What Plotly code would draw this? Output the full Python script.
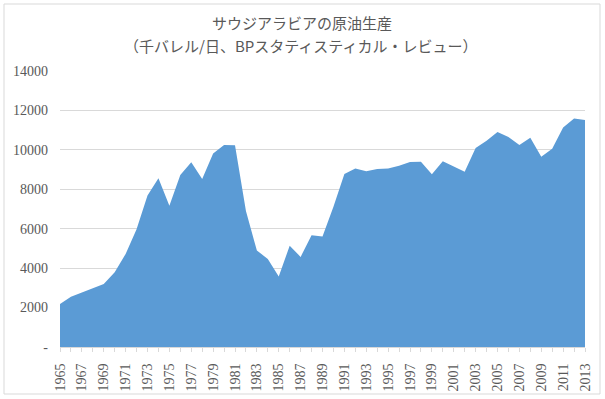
import plotly.graph_objects as go

years = list(range(1965, 2014))
production = [2180, 2550, 2760, 2990, 3200, 3790, 4720, 5970, 7680, 8560,
              7170, 8730, 9370, 8520, 9810, 10250, 10230, 6900, 4890, 4470,
              3570, 5140, 4570, 5670, 5600, 7120, 8780, 9050, 8910, 9030,
              9050, 9200, 9390, 9400, 8760, 9420, 9170, 8890, 10100, 10460,
              10900, 10650, 10250, 10610, 9645, 10050, 11130, 11590, 11510]
y_ticks = [0, 2000, 4000, 6000, 8000, 10000, 12000, 14000]
y_tick_labels = ["-", "2000", "4000", "6000", "8000", "10000", "12000", "14000"]
title_line1 = "サウジアラビアの原油生産"
title_line2 = "（千バレル/日、BPスタティスティカル・レビュー）"

x_text = [str(y) if (y - 1965) % 2 == 0 else "" for y in years]

fig = go.Figure()
fig.add_trace(go.Scatter(
    x=years, y=production, mode="lines", fill="tozeroy",
    line=dict(width=0, color="#5B9BD5"), fillcolor="#5B9BD5",
    hoverinfo="x+y", showlegend=False,
))

W, H = 605, 399
L, R, T, B = 60, 20, 71, 52
pw, ph = W - L - R, H - T - B

def px(x):
    return (x - L) / pw

def py(y):
    return (H - B - y) / ph

fig.update_layout(
    width=W, height=H,
    margin=dict(l=L, r=R, t=T, b=B),
    paper_bgcolor="white", plot_bgcolor="white",
    xaxis=dict(
        range=[1965, 2013], tickmode="array", tickvals=years, ticktext=x_text,
        tickangle=-90, ticks="outside", ticklen=4, tickcolor="#d9d9d9",
        showgrid=False, showline=True, linecolor="#d9d9d9", zeroline=False,
        ticklabelstandoff=6, automargin=False,
        tickfont=dict(family="Liberation Serif", size=14, color="#595959"),
    ),
    yaxis=dict(
        range=[0, 14000], tickmode="array", tickvals=y_ticks, ticktext=y_tick_labels,
        showgrid=True, gridcolor="#d9d9d9", gridwidth=1, zeroline=False,
        showline=False, ticks="", ticklabelstandoff=11, automargin=False,
        tickfont=dict(family="Liberation Serif", size=14, color="#595959"),
    ),
    annotations=[
        dict(text=title_line1, x=px(302), y=py(22), xref="paper", yref="paper",
             showarrow=False, xanchor="center", yanchor="middle",
             font=dict(family="Noto Sans CJK JP", size=15, color="#595959")),
        dict(text=title_line2, x=px(300), y=py(45), xref="paper", yref="paper",
             showarrow=False, xanchor="center", yanchor="middle",
             font=dict(family="Noto Sans CJK JP", size=15, color="#595959")),
    ],
    shapes=[
        dict(type="rect", xref="paper", yref="paper",
             x0=px(4), x1=px(600), y0=py(394), y1=py(4),
             line=dict(color="#d9d9d9", width=1), fillcolor="rgba(0,0,0,0)",
             layer="above"),
    ],
)

fig.write_html("out.html", config={"displayModeBar": False},
               post_script="document.body.style.margin='0';")
